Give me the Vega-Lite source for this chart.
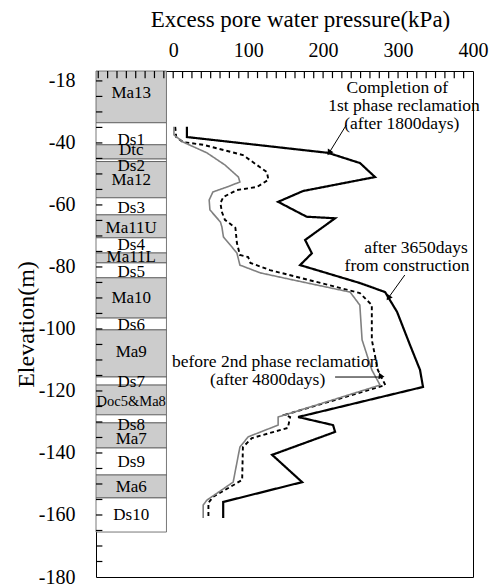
{
  "$schema": "https://vega.github.io/schema/vega-lite/v6.json",
  "width": 377,
  "height": 506,
  "autosize": "none",
  "padding": {"left": 96, "top": 71, "right": 17, "bottom": 9},
  "background": "white",
  "config": {
    "view": {"stroke": "black", "strokeWidth": 1},
    "font": "Liberation Serif"
  },
  "datasets": {
    "strata": [
      {"name": "Ma13", "kind": "Ma", "top": -16.8, "bottom": -33.5, "label_elev": -24.0},
      {"name": "Ds1", "kind": "Ds", "top": -33.5, "bottom": -40.6, "label_elev": -39.0},
      {"name": "Dtc", "kind": "Ma", "top": -40.6, "bottom": -45.2, "label_elev": -42.3},
      {"name": "Ds2", "kind": "Ds", "top": -45.2, "bottom": -46.0, "label_elev": -47.4},
      {"name": "Ma12", "kind": "Ma", "top": -46.0, "bottom": -57.7, "label_elev": -51.9},
      {"name": "Ds3", "kind": "Ds", "top": -57.7, "bottom": -63.2, "label_elev": -60.9},
      {"name": "Ma11U", "kind": "Ma", "top": -63.2, "bottom": -70.6, "label_elev": -67.3},
      {"name": "Ds4", "kind": "Ds", "top": -70.6, "bottom": -75.5, "label_elev": -72.9},
      {"name": "Ma11L", "kind": "Ma", "top": -75.5, "bottom": -78.7, "label_elev": -76.7},
      {"name": "Ds5", "kind": "Ds", "top": -78.7, "bottom": -83.5, "label_elev": -81.7},
      {"name": "Ma10", "kind": "Ma", "top": -83.5, "bottom": -96.5, "label_elev": -90.1},
      {"name": "Ds6", "kind": "Ds", "top": -96.5, "bottom": -100.3, "label_elev": -98.7},
      {"name": "Ma9", "kind": "Ma", "top": -100.3, "bottom": -115.5, "label_elev": -107.3},
      {"name": "Ds7", "kind": "Ds", "top": -115.5, "bottom": -118.1, "label_elev": -117.0},
      {"name": "Doc5&Ma8", "kind": "Ma", "top": -118.1, "bottom": -127.7, "label_elev": -123.5},
      {"name": "Ds8", "kind": "Ds", "top": -127.7, "bottom": -130.3, "label_elev": -131.0},
      {"name": "Ma7", "kind": "Ma", "top": -130.3, "bottom": -138.4, "label_elev": -135.5},
      {"name": "Ds9", "kind": "Ds", "top": -138.4, "bottom": -147.1, "label_elev": -142.8},
      {"name": "Ma6", "kind": "Ma", "top": -147.1, "bottom": -154.5, "label_elev": -150.9},
      {"name": "Ds10", "kind": "Ds", "top": -154.5, "bottom": -165.5, "label_elev": -160.0}
    ],
    "profiles": [
      {"series": "1800", "i": 1, "u": 18.3, "elev": -34.8},
      {"series": "1800", "i": 2, "u": 18.3, "elev": -38.1},
      {"series": "1800", "i": 3, "u": 206.7, "elev": -43.2},
      {"series": "1800", "i": 4, "u": 249.3, "elev": -46.5},
      {"series": "1800", "i": 5, "u": 269.3, "elev": -51.0},
      {"series": "1800", "i": 6, "u": 173.3, "elev": -55.5},
      {"series": "1800", "i": 7, "u": 140, "elev": -59.0},
      {"series": "1800", "i": 8, "u": 178, "elev": -63.8},
      {"series": "1800", "i": 9, "u": 216, "elev": -64.3},
      {"series": "1800", "i": 10, "u": 176, "elev": -71.3},
      {"series": "1800", "i": 11, "u": 185, "elev": -75.6},
      {"series": "1800", "i": 12, "u": 169.3, "elev": -79.4},
      {"series": "1800", "i": 13, "u": 249.3, "elev": -85.2},
      {"series": "1800", "i": 14, "u": 282.7, "elev": -88.1},
      {"series": "1800", "i": 15, "u": 298.7, "elev": -94.5},
      {"series": "1800", "i": 16, "u": 316, "elev": -105.2},
      {"series": "1800", "i": 17, "u": 329.3, "elev": -113.2},
      {"series": "1800", "i": 18, "u": 333.3, "elev": -118.7},
      {"series": "1800", "i": 19, "u": 166.7, "elev": -128.4},
      {"series": "1800", "i": 20, "u": 213.3, "elev": -131.0},
      {"series": "1800", "i": 21, "u": 216, "elev": -133.2},
      {"series": "1800", "i": 22, "u": 132, "elev": -140.6},
      {"series": "1800", "i": 23, "u": 172, "elev": -149.4},
      {"series": "1800", "i": 24, "u": 66.7, "elev": -155.8},
      {"series": "1800", "i": 25, "u": 66.7, "elev": -161.0},
      {"series": "3650", "i": 1, "u": 2.7, "elev": -34.8},
      {"series": "3650", "i": 2, "u": 4, "elev": -38.1},
      {"series": "3650", "i": 3, "u": 13, "elev": -39.7},
      {"series": "3650", "i": 4, "u": 40, "elev": -40.6},
      {"series": "3650", "i": 5, "u": 93, "elev": -43.9},
      {"series": "3650", "i": 6, "u": 125, "elev": -49.4},
      {"series": "3650", "i": 7, "u": 127, "elev": -51.9},
      {"series": "3650", "i": 8, "u": 112, "elev": -54.2},
      {"series": "3650", "i": 9, "u": 85, "elev": -55.2},
      {"series": "3650", "i": 10, "u": 67, "elev": -57.4},
      {"series": "3650", "i": 11, "u": 63, "elev": -59.4},
      {"series": "3650", "i": 12, "u": 65, "elev": -62.3},
      {"series": "3650", "i": 13, "u": 69, "elev": -64.8},
      {"series": "3650", "i": 14, "u": 83, "elev": -67.4},
      {"series": "3650", "i": 15, "u": 85, "elev": -72.3},
      {"series": "3650", "i": 16, "u": 89, "elev": -76.1},
      {"series": "3650", "i": 17, "u": 100, "elev": -76.8},
      {"series": "3650", "i": 18, "u": 103, "elev": -78.7},
      {"series": "3650", "i": 19, "u": 129, "elev": -81.0},
      {"series": "3650", "i": 20, "u": 249, "elev": -88.4},
      {"series": "3650", "i": 21, "u": 265, "elev": -92.3},
      {"series": "3650", "i": 22, "u": 265, "elev": -103.5},
      {"series": "3650", "i": 23, "u": 273, "elev": -113.2},
      {"series": "3650", "i": 24, "u": 283, "elev": -118.1},
      {"series": "3650", "i": 25, "u": 149, "elev": -127.7},
      {"series": "3650", "i": 26, "u": 156, "elev": -128.4},
      {"series": "3650", "i": 27, "u": 153, "elev": -131.9},
      {"series": "3650", "i": 28, "u": 105, "elev": -135.2},
      {"series": "3650", "i": 29, "u": 93, "elev": -138.1},
      {"series": "3650", "i": 30, "u": 92, "elev": -148.7},
      {"series": "3650", "i": 31, "u": 53, "elev": -154.2},
      {"series": "3650", "i": 32, "u": 47, "elev": -156.1},
      {"series": "3650", "i": 33, "u": 47, "elev": -161.0},
      {"series": "4800", "i": 1, "u": 1, "elev": -34.8},
      {"series": "4800", "i": 2, "u": 1, "elev": -37.4},
      {"series": "4800", "i": 3, "u": 13, "elev": -39.7},
      {"series": "4800", "i": 4, "u": 45, "elev": -43.2},
      {"series": "4800", "i": 5, "u": 69, "elev": -47.1},
      {"series": "4800", "i": 6, "u": 87, "elev": -51.0},
      {"series": "4800", "i": 7, "u": 89, "elev": -52.6},
      {"series": "4800", "i": 8, "u": 72, "elev": -54.2},
      {"series": "4800", "i": 9, "u": 53, "elev": -55.8},
      {"series": "4800", "i": 10, "u": 48, "elev": -58.4},
      {"series": "4800", "i": 11, "u": 49, "elev": -61.6},
      {"series": "4800", "i": 12, "u": 63, "elev": -65.5},
      {"series": "4800", "i": 13, "u": 65, "elev": -67.1},
      {"series": "4800", "i": 14, "u": 67, "elev": -70.3},
      {"series": "4800", "i": 15, "u": 85, "elev": -75.5},
      {"series": "4800", "i": 16, "u": 89, "elev": -79.4},
      {"series": "4800", "i": 17, "u": 116, "elev": -81.9},
      {"series": "4800", "i": 18, "u": 160, "elev": -84.2},
      {"series": "4800", "i": 19, "u": 236, "elev": -88.1},
      {"series": "4800", "i": 20, "u": 249, "elev": -92.3},
      {"series": "4800", "i": 21, "u": 252, "elev": -103.5},
      {"series": "4800", "i": 22, "u": 265, "elev": -113.2},
      {"series": "4800", "i": 23, "u": 276, "elev": -118.1},
      {"series": "4800", "i": 24, "u": 140, "elev": -128.4},
      {"series": "4800", "i": 25, "u": 140, "elev": -131.0},
      {"series": "4800", "i": 26, "u": 100, "elev": -134.8},
      {"series": "4800", "i": 27, "u": 89, "elev": -138.1},
      {"series": "4800", "i": 28, "u": 80, "elev": -149.4},
      {"series": "4800", "i": 29, "u": 45, "elev": -155.2},
      {"series": "4800", "i": 30, "u": 40, "elev": -156.8},
      {"series": "4800", "i": 31, "u": 40, "elev": -161.0}
    ],
    "notes": [
      {"text": "Completion of", "u": 299, "elev": -22.3},
      {"text": "1st phase reclamation", "u": 308, "elev": -28.1},
      {"text": "(after 1800days)", "u": 305, "elev": -33.9},
      {"text": "after 3650days", "u": 324, "elev": -73.9},
      {"text": "from construction", "u": 312, "elev": -79.7},
      {"text": "before 2nd phase reclamation", "u": 136, "elev": -110.6},
      {"text": "(after 4800days)", "u": 126, "elev": -116.5}
    ],
    "arrows": [
      {"id": "a", "u1": 231, "e1": -34.2, "u2": 208, "e2": -43.2},
      {"id": "b", "u1": 309, "e1": -82.6, "u2": 287, "e2": -90.0},
      {"id": "c", "u1": 216, "e1": -115.5, "u2": 276, "e2": -115.5}
    ],
    "xticks": [
      {"v": -100}, {"v": -87.5}, {"v": -75}, {"v": -62.5}, {"v": -50}, {"v": -37.5}, {"v": -25}, {"v": -12.5},
      {"v": 0}, {"v": 12.5}, {"v": 25}, {"v": 37.5}, {"v": 50}, {"v": 62.5}, {"v": 75}, {"v": 87.5},
      {"v": 100}, {"v": 112.5}, {"v": 125}, {"v": 137.5}, {"v": 150}, {"v": 162.5}, {"v": 175}, {"v": 187.5},
      {"v": 200}, {"v": 212.5}, {"v": 225}, {"v": 237.5}, {"v": 250}, {"v": 262.5}, {"v": 275}, {"v": 287.5},
      {"v": 300}, {"v": 312.5}, {"v": 325}, {"v": 337.5}, {"v": 350}, {"v": 362.5}, {"v": 375}, {"v": 387.5}
    ],
    "yticks": [
      {"v": -20}, {"v": -25}, {"v": -30}, {"v": -35}, {"v": -40}, {"v": -45}, {"v": -50}, {"v": -55},
      {"v": -60}, {"v": -65}, {"v": -70}, {"v": -75}, {"v": -80}, {"v": -85}, {"v": -90}, {"v": -95},
      {"v": -100}, {"v": -105}, {"v": -110}, {"v": -115}, {"v": -120}, {"v": -125}, {"v": -130}, {"v": -135},
      {"v": -140}, {"v": -145}, {"v": -150}, {"v": -155}, {"v": -160}, {"v": -165}, {"v": -170}, {"v": -175}
    ]
  },
  "layer": [
    {
      "data": {"name": "strata"},
      "mark": {"type": "rect", "stroke": "#555555", "strokeWidth": 0.8},
      "encoding": {
        "x": {"datum": -103, "type": "quantitative",
          "scale": {"domain": [-103, 400], "nice": false, "zero": false},
          "axis": {"orient": "top", "ticks": false, "tickSize": 0, "domain": false, "grid": false,
            "values": [0, 100, 200, 300, 400],
            "labelOverlap": false, "labelFlush": false, "labelBound": false,
            "labelPadding": 11, "labelFontSize": 20, "labelFont": "Liberation Serif", "labelColor": "black",
            "title": "Excess pore water pressure(kPa)", "titleFont": "Liberation Serif", "titleColor": "black", "titleFontSize": 23, "titleFontWeight": "normal", "titlePadding": 9, "titleX": 204}},
        "x2": {"datum": -9},
        "y": {"field": "top", "type": "quantitative",
          "scale": {"domain": [-180, -16.8], "nice": false, "zero": false},
          "axis": {"ticks": false, "tickSize": 0, "domain": false, "grid": false,
            "values": [-20, -40, -60, -80, -100, -120, -140, -160, -180],
            "labelExpr": "datum.value == -20 ? '-18' : '-' + abs(datum.value)", "labelOverlap": false, "labelFlush": false, "labelBound": false,
            "labelPadding": 21, "labelFontSize": 20, "labelFont": "Liberation Serif", "labelColor": "black",
            "title": "Elevation(m)", "titleFont": "Liberation Serif", "titleColor": "black", "titleFontSize": 24, "titleFontWeight": "normal", "titlePadding": 0}},
        "y2": {"field": "bottom"},
        "fill": {"field": "kind", "type": "nominal", "scale": {"domain": ["Ma", "Ds"], "range": ["#cccccc", "#ffffff"]}, "legend": null}
      }
    },
    {
      "data": {"name": "xticks"},
      "mark": {"type": "rule", "color": "#000000", "strokeWidth": 1.2, "opacity": 1},
      "encoding": {
        "x": {"field": "v", "type": "quantitative"},
        "y": {"datum": -16.8, "type": "quantitative"},
        "y2": {"datum": -19.1}
      }
    },
    {
      "data": {"name": "yticks"},
      "mark": {"type": "rule", "color": "#000000", "strokeWidth": 1.2, "opacity": 1},
      "encoding": {
        "y": {"field": "v", "type": "quantitative"},
        "x": {"datum": -103, "type": "quantitative"},
        "x2": {"datum": -94.5}
      }
    },
    {
      "data": {"name": "strata"},
      "mark": {"type": "text", "color": "black", "baseline": "middle"},
      "encoding": {
        "x": {"datum": -56, "type": "quantitative"},
        "y": {"field": "label_elev", "type": "quantitative"},
        "text": {"field": "name"},
        "size": {"condition": {"test": "datum.name == 'Doc5&Ma8'", "value": 14.5}, "value": 17}
      }
    },
    {
      "data": {"name": "profiles"},
      "mark": {"type": "line", "strokeJoin": "miter"},
      "encoding": {
        "x": {"field": "u", "type": "quantitative"},
        "y": {"field": "elev", "type": "quantitative"},
        "order": {"field": "i"},
        "detail": {"field": "series"},
        "color": {"field": "series", "type": "nominal", "scale": {"domain": ["1800", "3650", "4800"], "range": ["#000000", "#000000", "#808080"]}, "legend": null},
        "strokeWidth": {"field": "series", "type": "nominal", "scale": {"domain": ["1800", "3650", "4800"], "range": [2.2, 1.6, 1]}, "legend": null},
        "strokeDash": {"field": "series", "type": "nominal", "scale": {"domain": ["1800", "3650", "4800"], "range": [[1, 0], [4, 3], [1, 0]]}, "legend": null}
      }
    },
    {
      "data": {"name": "notes"},
      "mark": {"type": "text", "fontSize": 17.5, "color": "black", "align": "center", "baseline": "middle"},
      "encoding": {
        "x": {"field": "u", "type": "quantitative"},
        "y": {"field": "elev", "type": "quantitative"},
        "text": {"field": "text"}
      }
    },
    {
      "data": {"name": "arrows"},
      "mark": {"type": "rule", "color": "black", "strokeWidth": 1},
      "encoding": {
        "x": {"field": "u1", "type": "quantitative"},
        "y": {"field": "e1", "type": "quantitative"},
        "x2": {"field": "u2"},
        "y2": {"field": "e2"}
      }
    },
    {
      "data": {"name": "arrows"},
      "mark": {"type": "point", "shape": "triangle-up", "filled": true, "color": "black", "size": 45, "opacity": 1},
      "encoding": {
        "x": {"field": "u2", "type": "quantitative"},
        "y": {"field": "e2", "type": "quantitative"},
        "angle": {"field": "id", "type": "nominal", "scale": {"domain": ["a", "b", "c"], "range": [213, 216, 90]}, "legend": null}
      }
    }
  ]
}
